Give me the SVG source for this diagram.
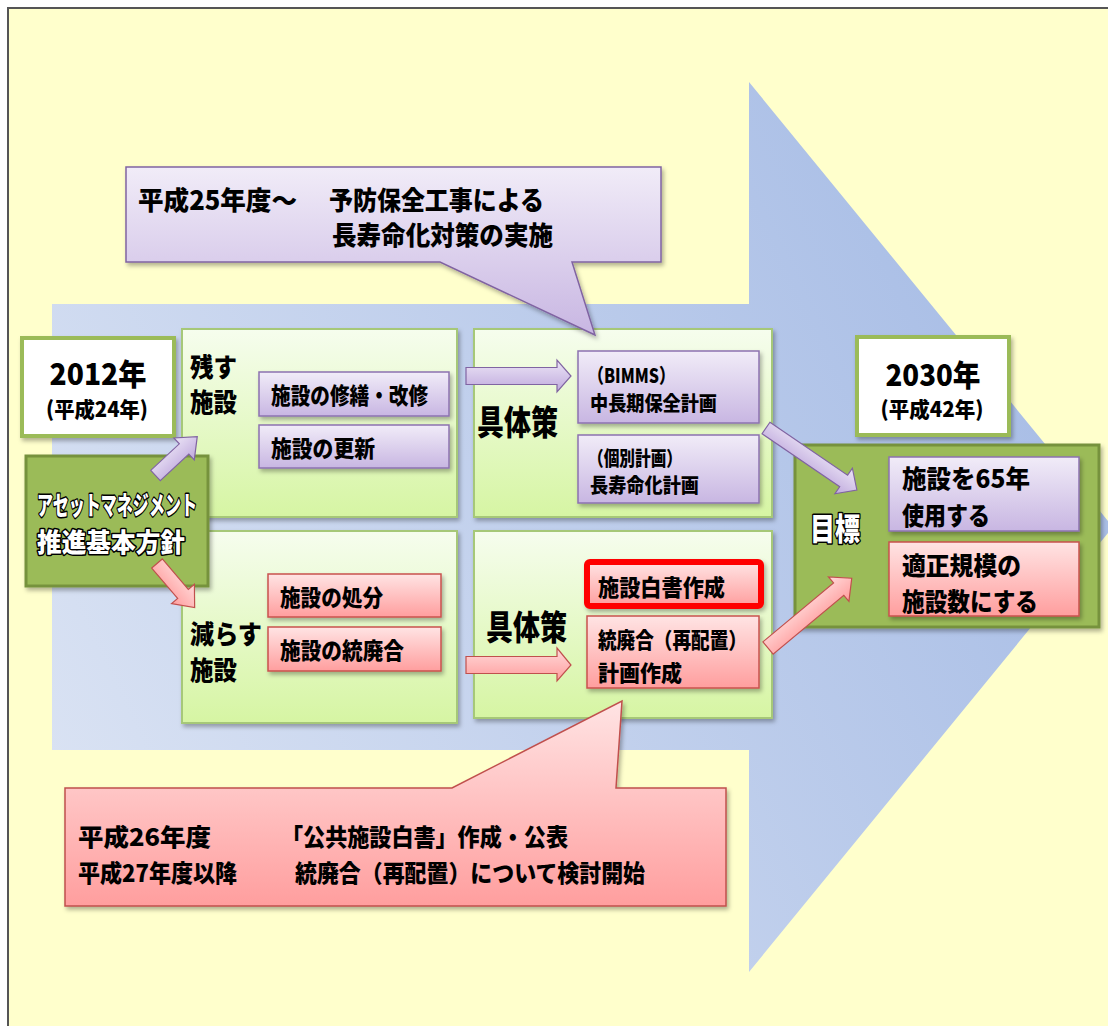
<svg xmlns="http://www.w3.org/2000/svg" width="1108" height="1026" viewBox="0 0 1108 1026">
<defs>
<linearGradient id="gBig" gradientUnits="userSpaceOnUse" x1="52" y1="760" x2="1000" y2="300">
<stop offset="0" stop-color="#D9E2F3"/><stop offset="1" stop-color="#A9BEE6"/>
</linearGradient>
<linearGradient id="gPanel" x1="0" y1="0" x2="0" y2="1">
<stop offset="0" stop-color="#F6FDEE"/><stop offset="1" stop-color="#D6F5A3"/>
</linearGradient>
<linearGradient id="gPur" x1="0" y1="0" x2="0" y2="1">
<stop offset="0" stop-color="#F1ECF8"/><stop offset="1" stop-color="#C8B6E2"/>
</linearGradient>
<linearGradient id="gPink" x1="0" y1="0" x2="0" y2="1">
<stop offset="0" stop-color="#FFE4E4"/><stop offset="1" stop-color="#FF9E9E"/>
</linearGradient>
<linearGradient id="gPurA" x1="0" y1="0" x2="0" y2="1">
<stop offset="0" stop-color="#ECE5F6"/><stop offset="1" stop-color="#BFA9DD"/>
</linearGradient>
<linearGradient id="gPinkA" x1="0" y1="0" x2="0" y2="1">
<stop offset="0" stop-color="#FFDADA"/><stop offset="1" stop-color="#FF9D9D"/>
</linearGradient>
<filter id="sh" x="-10%" y="-10%" width="120%" height="130%">
<feDropShadow dx="2" dy="3" stdDeviation="2" flood-color="#000" flood-opacity="0.3"/>
</filter>
<style>
text{font-family:"Noto Sans CJK JP","Noto Sans",sans-serif;font-weight:900;fill:#000}
.panel{fill:url(#gPanel);stroke:#A6C878;stroke-width:2;filter:url(#sh)}
.pur{fill:url(#gPur);stroke:#8C72B0;stroke-width:1.5;filter:url(#sh)}
.pink{fill:url(#gPink);stroke:#C9524E;stroke-width:1.5;filter:url(#sh)}
.year{fill:#FFFFFF;stroke:#9BBB59;stroke-width:4;filter:url(#sh)}
.green{fill:#9BBB59;stroke:#76923C;stroke-width:3;filter:url(#sh)}
.outl{fill:#FFFFFF;stroke:#000;stroke-width:3;paint-order:stroke;stroke-linejoin:round}
.apur{fill:url(#gPurA);stroke:#8064A2;stroke-width:1.2}
.apink{fill:url(#gPinkA);stroke:#C0504D;stroke-width:1.2}
.red{fill:url(#gPink);stroke:#FF0000;stroke-width:6;filter:url(#sh)}
</style>
</defs>

<rect x="8" y="8" width="1200" height="1100" fill="#FFFFCC" stroke="#555555" stroke-width="2"/>

<g id="big-arrow">
<polygon points="52,304 749,304 749,82 1113,527 749,972 749,750 52,750" fill="url(#gBig)"/>
</g>

<g id="year-2012">
<rect class="year" x="22" y="338" width="152" height="98"/>
<text x="98" y="385" font-size="30" text-anchor="middle" textLength="97" lengthAdjust="spacingAndGlyphs">2012年</text>
<text x="97" y="417" font-size="21" text-anchor="middle" textLength="102" lengthAdjust="spacingAndGlyphs">(平成24年)</text>
</g>

<g id="keep-panel">
<rect class="panel" x="182" y="329" width="275" height="188"/>
<text x="190" y="377" font-size="26" textLength="47" lengthAdjust="spacingAndGlyphs">残す</text>
<text x="190" y="412" font-size="26" textLength="47" lengthAdjust="spacingAndGlyphs">施設</text>
</g>
<g id="repair">
<rect class="pur" x="259" y="372" width="190" height="44"/>
<text x="271" y="404" font-size="23" textLength="157" lengthAdjust="spacingAndGlyphs">施設の修繕・改修</text>
</g>
<g id="renew">
<rect class="pur" x="259" y="425" width="190" height="43"/>
<text x="271" y="457" font-size="23" textLength="104" lengthAdjust="spacingAndGlyphs">施設の更新</text>
</g>

<g id="reduce-panel">
<rect class="panel" x="182" y="531" width="275" height="192"/>
<text x="190" y="644" font-size="26" textLength="72" lengthAdjust="spacingAndGlyphs">減らす</text>
<text x="190" y="680" font-size="26" textLength="47" lengthAdjust="spacingAndGlyphs">施設</text>
</g>
<g id="dispose">
<rect class="pink" x="268" y="574" width="173" height="43"/>
<text x="280" y="606" font-size="23" textLength="103" lengthAdjust="spacingAndGlyphs">施設の処分</text>
</g>
<g id="merge">
<rect class="pink" x="268" y="627" width="173" height="44"/>
<text x="280" y="659" font-size="23" textLength="124" lengthAdjust="spacingAndGlyphs">施設の統廃合</text>
</g>

<g id="policy">
<rect class="green" x="26" y="456" width="182" height="130"/>
<text class="outl" x="37" y="515" font-size="26" textLength="160" lengthAdjust="spacingAndGlyphs">アセットマネジメント</text>
<text class="outl" x="37" y="552" font-size="26" textLength="148" lengthAdjust="spacingAndGlyphs">推進基本方針</text>
</g>

<g id="measures-top">
<rect class="panel" x="474" y="329" width="298" height="188"/>
<text x="477" y="435" font-size="34" textLength="81" lengthAdjust="spacingAndGlyphs">具体策</text>
</g>
<g id="bimms">
<rect class="pur" x="578" y="351" width="181" height="72"/>
<text x="588" y="383" font-size="20" textLength="87" lengthAdjust="spacingAndGlyphs">（BIMMS）</text>
<text x="590" y="411" font-size="20" textLength="127" lengthAdjust="spacingAndGlyphs">中長期保全計画</text>
</g>
<g id="individual">
<rect class="pur" x="578" y="435" width="181" height="68"/>
<text x="588" y="466" font-size="20" textLength="94" lengthAdjust="spacingAndGlyphs">（個別計画）</text>
<text x="590" y="493" font-size="20" textLength="109" lengthAdjust="spacingAndGlyphs">長寿命化計画</text>
</g>

<g id="measures-bottom">
<rect class="panel" x="474" y="531" width="298" height="187"/>
<text x="486" y="640" font-size="34" textLength="81" lengthAdjust="spacingAndGlyphs">具体策</text>
</g>
<g id="whitepaper">
<rect class="red" x="587" y="562" width="174" height="44" rx="3"/>
<text x="598" y="596" font-size="23" textLength="127" lengthAdjust="spacingAndGlyphs">施設白書作成</text>
</g>
<g id="relocation">
<rect class="pink" x="587" y="616" width="172" height="72"/>
<text x="598" y="648" font-size="22" textLength="149" lengthAdjust="spacingAndGlyphs">統廃合（再配置）</text>
<text x="598" y="681" font-size="22" textLength="84" lengthAdjust="spacingAndGlyphs">計画作成</text>
</g>

<g id="year-2030">
<rect class="year" x="857" y="337" width="152" height="98"/>
<text x="933" y="386" font-size="30" text-anchor="middle" textLength="95" lengthAdjust="spacingAndGlyphs">2030年</text>
<text x="932" y="417" font-size="21" text-anchor="middle" textLength="103" lengthAdjust="spacingAndGlyphs">(平成42年)</text>
</g>

<g id="goal">
<rect class="green" x="795" y="445" width="304" height="182"/>
<text class="outl" x="810" y="540" font-size="31" textLength="50" lengthAdjust="spacingAndGlyphs">目標</text>
</g>
<g id="goal-65">
<rect class="pur" x="889" y="457" width="190" height="74"/>
<text x="902" y="488" font-size="25" textLength="128" lengthAdjust="spacingAndGlyphs">施設を65年</text>
<text x="902" y="525" font-size="25" textLength="88" lengthAdjust="spacingAndGlyphs">使用する</text>
</g>
<g id="goal-scale">
<rect class="pink" x="889" y="542" width="190" height="74"/>
<text x="902" y="575" font-size="25" textLength="119" lengthAdjust="spacingAndGlyphs">適正規模の</text>
<text x="902" y="611" font-size="25" textLength="136" lengthAdjust="spacingAndGlyphs">施設数にする</text>
</g>

<g id="connectors">
<polygon class="apur" transform="translate(155.5,475.5) rotate(-42.9)" points="0,-7 39,-7 39,-15 57,0 39,15 39,7 0,7"/>
<polygon class="apink" transform="translate(157,563.5) rotate(49.5)" points="0,-7 40,-7 40,-15 58,0 40,15 40,7 0,7"/>
<polygon class="apur" points="466,367.5 557,367.5 557,360 571,376 557,392 557,384.5 466,384.5"/>
<polygon class="apink" points="466,656.5 557,656.5 557,648 571,665 557,681 557,673.5 466,673.5"/>
<polygon class="apur" transform="translate(766,428) rotate(34.3)" points="0,-7 94,-7 94,-15.5 110,0 94,15.5 94,7 0,7"/>
<polygon class="apink" transform="translate(768,648) rotate(-39.8)" points="0,-8 92,-8 92,-16 109,0 92,16 92,8 0,8"/>
</g>

<g id="callout-top">
<path d="M126,167 H661 V262 H572 L595,335 L440,262 H126 Z" fill="url(#gPur)" stroke="#8064A2" stroke-width="1.5" filter="url(#sh)"/>
<text x="138" y="210" font-size="26" textLength="159" lengthAdjust="spacingAndGlyphs">平成25年度～</text>
<text x="329" y="210" font-size="26" textLength="215" lengthAdjust="spacingAndGlyphs">予防保全工事による</text>
<text x="332" y="245" font-size="26" textLength="221" lengthAdjust="spacingAndGlyphs">長寿命化対策の実施</text>
</g>

<g id="callout-bottom">
<path d="M65,788 H452 L622,701 L616,788 H726 V906 H65 Z" fill="url(#gPink)" stroke="#C0504D" stroke-width="1.5" filter="url(#sh)"/>
<text x="78" y="846" font-size="24" textLength="133" lengthAdjust="spacingAndGlyphs">平成26年度</text>
<text x="281" y="846" font-size="24" textLength="287" lengthAdjust="spacingAndGlyphs">「公共施設白書」作成・公表</text>
<text x="78" y="882" font-size="24" textLength="159" lengthAdjust="spacingAndGlyphs">平成27年度以降</text>
<text x="295" y="882" font-size="24" textLength="350" lengthAdjust="spacingAndGlyphs">統廃合（再配置）について検討開始</text>
</g>
</svg>
